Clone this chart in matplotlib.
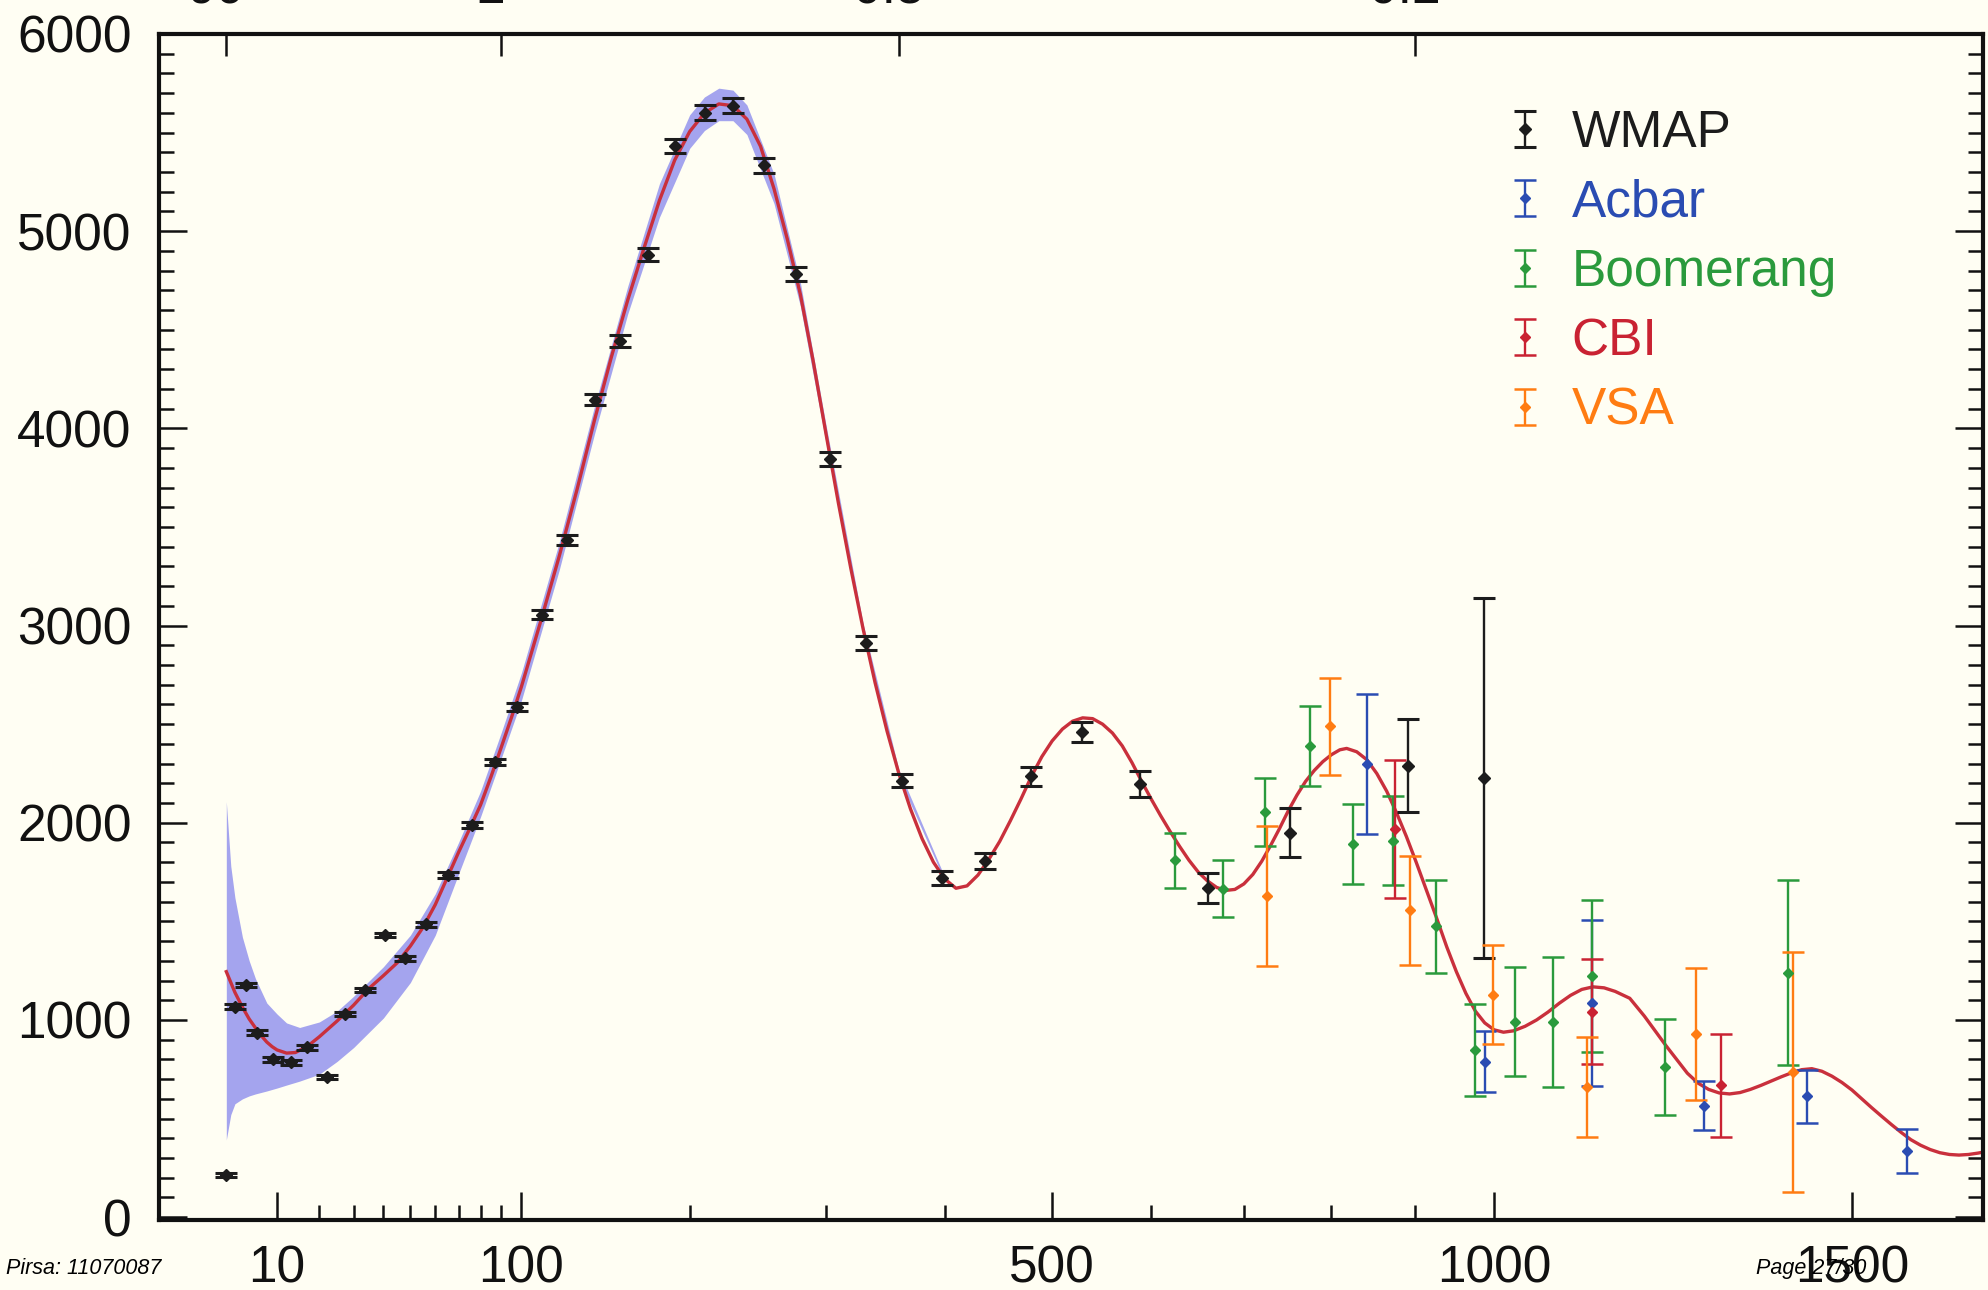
import numpy as np
import matplotlib
matplotlib.use("Agg")
import matplotlib.pyplot as plt
from matplotlib.ticker import FixedLocator, NullFormatter
from matplotlib.container import ErrorbarContainer
from matplotlib.legend_handler import HandlerErrorbar

plt.rcParams['font.family'] = ['Liberation Sans', 'DejaVu Sans']

# multipole l and l(l+1)C_l/2pi [uK^2]
wmap_l = [2, 3, 4.5, 6.2, 9.2, 13.1, 16.7, 22.0, 27.3, 33.7, 40.5, 47.9, 56.2, 65.5,
          75.9, 86.9, 98.0, 110.7, 124.3, 140.3, 155.3, 172.7, 190.2, 210.4, 230.1,
          252.9, 276.6, 303.5, 332.8, 362.7, 397.5, 436.5, 479.2, 529.3, 588.8,
          660.1, 752.6, 892.0, 986.5]
wmap_v = [214, 1068, 1178, 936, 801, 785, 862, 711, 1031, 1152, 1431, 1313, 1486, 1736,
          1989, 2310, 2587, 3055, 3434, 4145, 4444, 4881, 5430, 5600, 5635,
          5335, 4782, 3845, 2912, 2214, 1720, 1805, 2235, 2462, 2195,
          1670, 1950, 2290, 2227]
wmap_e = [12, 12, 12, 12, 12, 12, 12, 12, 12, 12, 12, 12, 12, 15,
          15, 15, 18, 22, 25, 28, 30, 32, 35, 38, 38,
          38, 36, 35, 34, 33, 34, 40, 48, 50, 65,
          76, 125, 235, 915]

acbar_l = [841.7, 987.8, 1128.4, 1283.4, 1432.6, 1583.9]
acbar_v = [2299, 788, 1086, 566, 613, 335]
acbar_e = [355, 155, 421, 125, 134, 113]

boom_l = [625.1, 676.6, 723.7, 775.2, 826.0, 873.7, 927.1, 975.5, 1026.7, 1077.3,
          1128.4, 1228.5, 1404.7]
boom_v = [1810, 1665, 2055, 2390, 1891, 1910, 1475, 847, 992, 989, 1223, 762, 1240]
boom_e = [140, 145, 172, 202, 204, 227, 236, 235, 275, 328, 384, 243, 469]

cbi_l = [875.8, 1128.4, 1307.6]
cbi_v = [1968, 1043, 668]
cbi_e = [350, 264, 262]

vsa_l = [725.5, 798.2, 894.1, 998.0, 1121.6, 1272.1, 1412.2]
vsa_v = [1629, 2489, 1557, 1129, 660, 927, 736]
vsa_e = [355, 245, 276, 250, 252, 335, 608]

# best-fit model curve
model_l = [2, 2.5, 3, 4, 5, 6, 7, 8, 9, 10, 12, 14, 17, 20, 25, 30, 35, 40, 45, 50,
           55, 60, 65, 70, 75, 80, 85, 90, 95, 100, 110, 120, 130, 140, 150, 160,
           170, 180, 190, 200, 210, 220, 230, 240, 250, 260, 270, 280, 290, 300,
           310, 320, 330, 340, 350, 360, 370, 380, 390, 400, 410, 420, 430, 440,
           450, 460, 470, 480, 490, 500, 510, 520, 530, 540, 550, 560, 570, 580,
           590, 600, 610, 620, 630, 640, 650, 660, 670, 680, 690, 700, 710, 720,
           730, 740, 750, 760, 770, 780, 790, 800, 810, 818, 830, 842, 854, 866,
           878, 890, 902, 914, 927, 940, 952, 964, 976, 988, 1000, 1012, 1025,
           1040, 1055, 1070, 1085, 1100, 1115, 1130, 1145, 1160, 1180, 1200, 1215,
           1230, 1245, 1260, 1275, 1290, 1305, 1320, 1335, 1350, 1365, 1380, 1395,
           1410, 1425, 1440, 1455, 1470, 1485, 1500, 1515, 1530, 1545, 1560, 1575,
           1590, 1605, 1620, 1635, 1650, 1665, 1680, 1695, 1710]
model_d = [1245, 1190, 1140, 1065, 1005, 960, 920, 888, 865, 848, 832, 835, 868, 915,
           995, 1075, 1160, 1225, 1290, 1375, 1470, 1585, 1720, 1850, 1970, 2090,
           2235, 2385, 2535, 2690, 3020, 3350, 3690, 4040, 4360, 4650, 4910, 5155,
           5360, 5505, 5598, 5645, 5636, 5568, 5430, 5215, 4960, 4680, 4340, 3975,
           3620, 3290, 2985, 2710, 2465, 2250, 2070, 1920, 1800, 1715, 1668, 1680,
           1735, 1815, 1905, 2010, 2120, 2235, 2335, 2415, 2475, 2515, 2532, 2528,
           2500, 2455, 2390, 2305, 2210, 2120, 2035, 1955, 1880, 1810, 1750, 1705,
           1672, 1657, 1662, 1690, 1738, 1805, 1885, 1970, 2060, 2140, 2210, 2265,
           2310, 2345, 2370, 2377, 2360, 2320, 2250, 2160, 2050, 1930, 1800, 1665,
           1520, 1370, 1245, 1135, 1045, 985, 950, 938, 945, 968, 1000, 1040, 1085,
           1125, 1155, 1168, 1163, 1145, 1110, 1020, 945, 870, 800, 730, 680, 648,
           630, 625, 632, 648, 668, 690, 712, 732, 748, 753, 740, 715, 683, 645,
           600, 555, 512, 470, 430, 393, 365, 343, 327, 318, 315, 318, 325, 334]

# 1-sigma band around the model
band_l = [2, 2.5, 3, 4, 5, 6, 8, 10, 12, 15, 20, 25, 30, 40, 50, 60, 70, 80, 90,
          100, 120, 140, 160, 180, 200, 210, 220, 230, 240, 260, 280, 300, 330,
          360, 400]
band_hi = [2107, 1780, 1620, 1420, 1300, 1210, 1086, 1030, 985, 962, 990, 1045, 1120,
           1270, 1430, 1640, 1900, 2160, 2460, 2760, 3420, 4110, 4720, 5240, 5590,
           5680, 5725, 5715, 5640, 5290, 4740, 4020, 3010, 2270, 1725]
band_lo = [392, 520, 575, 600, 615, 625, 640, 655, 670, 690, 725, 790, 860, 1010,
           1190, 1430, 1740, 2030, 2330, 2620, 3280, 3970, 4580, 5070, 5420, 5510,
           5560, 5560, 5490, 5140, 4620, 3930, 2960, 2230, 1705]

top_ticks = [2, 90, 360, 900]
top_labels = ['90\u00b0', '2\u00b0', '0.5\u00b0', '0.2\u00b0']


def fwd(x):
    x = np.asarray(x, dtype=float)
    return np.sign(x) * np.abs(x) ** 0.6


def inv(y):
    y = np.asarray(y, dtype=float)
    return np.sign(y) * np.abs(y) ** (1 / 0.6)


bg = '#fffef3'
fig = plt.figure(figsize=(19.88, 12.90), dpi=100, facecolor=bg)
ax = fig.add_axes([0.0802, 0.0543, 0.9173, 0.9194], facecolor=bg)
ax.set_xscale('function', functions=(fwd, inv))

ax.fill_between(band_l, band_lo, band_hi, color='#a4a4ee', lw=0, zorder=1)
ax.plot(model_l, model_d, color='#c9303c', lw=2.4, zorder=2)

series = [
    ('WMAP', wmap_l, wmap_v, wmap_e, '#1c1c1c'),
    ('Acbar', acbar_l, acbar_v, acbar_e, '#2a4cb2'),
    ('Boomerang', boom_l, boom_v, boom_e, '#2a9a3c'),
    ('CBI', cbi_l, cbi_v, cbi_e, '#c92232'),
    ('VSA', vsa_l, vsa_v, vsa_e, '#ff7c12'),
]
handles = []
for name, xs, ys, es, col in series:
    big = name == 'WMAP'
    h = ax.errorbar(xs, ys, yerr=es, fmt='D', ms=6 if big else 5, color=col, ecolor=col,
                    elinewidth=1.7, capsize=8, capthick=2.2 if big else 1.8,
                    label=name, zorder=3)
    handles.append(h)

ax.set_xlim(-2.5, 1703)
ax.set_ylim(-14, 6000)

ax.xaxis.set_major_locator(FixedLocator([10, 100, 500, 1000, 1500]))
ax.set_xticklabels(['10', '100', '500', '1000', '1500'])
ax.xaxis.set_minor_locator(FixedLocator([20, 30, 40, 50, 60, 70, 80, 90, 200, 300, 400,
                                         600, 700, 800, 900]))
ax.xaxis.set_minor_formatter(NullFormatter())
ax.set_yticks(np.arange(0, 6001, 1000))
ax.yaxis.set_minor_locator(FixedLocator(np.arange(0, 6001, 100)))

ax.tick_params(which='both', direction='in', top=False, right=True, width=1.8,
               colors='#111111', labelsize=37)
ax.tick_params(which='major', length=20)
ax.tick_params(which='minor', length=11)
ax.tick_params(axis='x', which='major', pad=18)
ax.tick_params(axis='y', which='major', pad=20)
for sp in ax.spines.values():
    sp.set_linewidth(3)
    sp.set_color('#111111')

# angular scale along the top, mostly cut off by the frame edge
ax2 = ax.twiny()
ax2.set_xscale('function', functions=(fwd, inv))
ax2.set_xlim(ax.get_xlim())
ax2.set_xticks(top_ticks)
ax2.set_xticklabels(top_labels)
ax2.xaxis.set_minor_locator(FixedLocator([]))
ax2.tick_params(axis='x', direction='in', length=16, width=1.8, labelsize=37, pad=14,
                colors='#111111')
for sp in ax2.spines.values():
    sp.set_visible(False)

leg = ax.legend(handles=handles, loc='upper left', bbox_to_anchor=(0.742, 0.937),
                frameon=False, fontsize=37, handlelength=0.5, handletextpad=0.65,
                labelspacing=0.4, borderpad=0, borderaxespad=0,
                handler_map={ErrorbarContainer: HandlerErrorbar(xerr_size=0.35)})
for txt, (_, _, _, _, col) in zip(leg.get_texts(), series):
    txt.set_color(col)

fig.text(0.003, 0.017, 'Pirsa: 11070087', style='italic', fontsize=15.5, va='center')
fig.text(0.8835, 0.017, 'Page 27/30', style='italic', fontsize=15.5, va='center')

fig.savefig('out.png', dpi=100, facecolor=bg)
